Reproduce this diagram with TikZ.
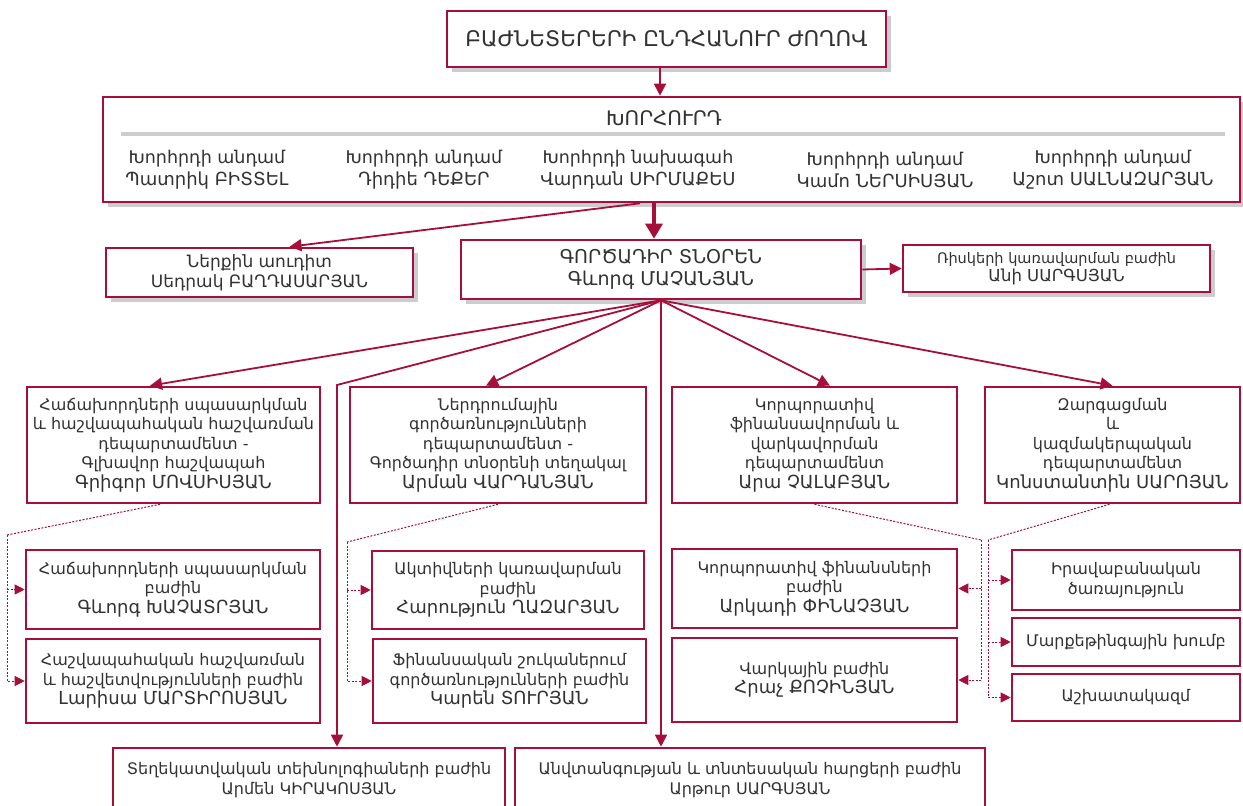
\documentclass[tikz,border=0pt]{standalone}
\usepackage{fontspec}
\setmainfont{DejaVu Sans}
\usetikzlibrary{arrows.meta,shadows}
\definecolor{crim}{RGB}{165,15,58}
\definecolor{shadowc}{RGB}{204,205,208}
\definecolor{txtc}{RGB}{50,50,50}
\newcommand\myfont{\fontsize{16}{19.5}\selectfont}
\newcommand\mytitlefont{\fontsize{21.5}{24}\selectfont}
\newcommand\nm[1]{{\fontsize{18}{19.5}\selectfont #1}}
\newcommand\mm[1]{{\fontsize{17.5}{22}\selectfont #1}}
\tikzset{
  box/.style={draw=crim, line width=2.6pt, fill=white, align=center, inner sep=0pt, text=txtc, font=\myfont},
  shd/.style={drop shadow={shadow xshift=5pt, shadow yshift=-5pt, fill=shadowc, opacity=1}},
  txt/.style={align=center, inner sep=0pt, text=txtc, font=\myfont},
  conn/.style={draw=crim, line width=1.8pt, -{Triangle[length=12pt,width=12pt]}},
  bigconn/.style={draw=crim, line width=3.2pt, -{Triangle[length=15pt,width=17pt]}},
  dconn/.style={draw=crim, line width=1pt, dash pattern=on 2pt off 1.5pt},
  dtip/.style={dconn, -{Triangle[length=10pt,width=10pt]}},
}
\begin{document}
\begin{tikzpicture}[x=1pt,y=-1pt]
\useasboundingbox (0,0) rectangle (1243,806);
\clip (0,0) rectangle (1243,806);

% top
\node[box, shd, minimum width=439, minimum height=56, font=\mytitlefont] (gm) at (666.5,39) {ԲԱԺՆԵՏԵՐԵՐԻ ԸՆԴՀԱՆՈՒՐ ԺՈՂՈՎ};

% board
\node[box, shd, minimum width=1137, minimum height=105] (board) at (671.5,149.5) {};
\node[txt, font=\fontsize{20}{22}\selectfont] (bt) at (664,118) {ԽՈՐՀՈՒՐԴ};
\draw[line width=4.5pt, draw=shadowc] (121,134) -- (1225,134);
\node[txt, font=\fontsize{17.5}{22}\selectfont] (m1) at (207,170) {Խորհրդի անդամ\\\nm{Պատրիկ ԲԻՏՏԵԼ}};
\node[txt, font=\fontsize{17.5}{22}\selectfont] (m2) at (424,170) {Խորհրդի անդամ\\\nm{Դիդիե ԴԵՔԵՐ}};
\node[txt, font=\fontsize{17.5}{22}\selectfont] (m3) at (638,170) {Խորհրդի նախագահ\\\nm{Վարդան ՍԻՐՄԱՔԵՍ}};
\node[txt, font=\fontsize{17.5}{22}\selectfont] (m4) at (885,170) {Խորհրդի անդամ\\\nm{Կամո ՆԵՐՍԻՍՅԱՆ}};
\node[txt, font=\fontsize{17.5}{22}\selectfont] (m5) at (1113,170) {Խորհրդի անդամ\\\nm{Աշոտ ՍԱԼՆԱԶԱՐՅԱՆ}};

% second level
\node[box, shd, minimum width=307, minimum height=49, font=\fontsize{17}{20}\selectfont] (audit) at (259.5,272.5) {Ներքին աուդիտ\\Սեդրակ ԲԱՂԴԱՍԱՐՅԱՆ};
\node[box, shd, minimum width=400, minimum height=59, font=\fontsize{19}{22}\selectfont] (ceo) at (661,269.5) {ԳՈՐԾԱԴԻՐ ՏՆՕՐԵՆ\\Գևորգ ՄԱՉԱՆՅԱՆ};
\node[box, shd, minimum width=307, minimum height=47, font=\fontsize{14.5}{18}\selectfont] (risk) at (1056.5,268.5) {Ռիսկերի կառավարման բաժին\\{\fontsize{16.5}{18}\selectfont Անի ՍԱՐԳՍՅԱՆ}};

% departments
\node[box, minimum width=293, minimum height=116] (d1) at (173.5,445) {Հաճախորդների սպասարկման\\և հաշվապահական հաշվառման\\դեպարտամենտ -\\Գլխավոր հաշվապահ\\\nm{Գրիգոր ՄՈՎՍԻՍՅԱՆ}};
\node[box, minimum width=296, minimum height=116] (d2) at (498,445) {Ներդրումային\\գործառնությունների\\դեպարտամենտ -\\Գործադիր տնօրենի տեղակալ\\\nm{Արման ՎԱՐԴԱՆՅԱՆ}};
\node[box, minimum width=285, minimum height=116] (d3) at (814.5,445) {Կորպորատիվ\\ֆինանսավորման և\\վարկավորման\\դեպարտամենտ\\\nm{Արա ՉԱԼԱԲՅԱՆ}};
\node[box, minimum width=255, minimum height=116] (d4) at (1112.5,445) {Զարգացման\\և\\կազմակերպական\\դեպարտամենտ\\\nm{Կոնստանտին ՍԱՐՈՅԱՆ}};

% sub units
\node[box, minimum width=294, minimum height=79] (s11) at (173,589.5) {Հաճախորդների սպասարկման\\բաժին\\\nm{Գևորգ ԽԱՉԱՏՐՅԱՆ}};
\node[box, minimum width=294, minimum height=84] (s12) at (173,681) {Հաշվապահական հաշվառման\\և հաշվետվությունների բաժին\\\nm{Լարիսա ՄԱՐՏԻՐՈՍՅԱՆ}};
\node[box, minimum width=272, minimum height=78] (s21) at (508,590) {Ակտիվների կառավարման\\բաժին\\\nm{Հարություն ՂԱԶԱՐՅԱՆ}};
\node[box, minimum width=273, minimum height=84] (s22) at (509.5,681) {Ֆինանսական շուկաներում\\գործառնությունների բաժին\\\nm{Կարեն ՏՈՒՐՅԱՆ}};
\node[box, minimum width=285, minimum height=79] (s31) at (814.5,588.5) {Կորպորատիվ ֆինանսների\\բաժին\\\nm{Արկադի ՓԻՆԱՉՅԱՆ}};
\node[box, minimum width=285, minimum height=84] (s32) at (814.5,680) {Վարկային բաժին\\\nm{Հրաչ ՔՈՉԻՆՅԱՆ}};
\node[box, minimum width=228, minimum height=60] (s41) at (1126,580) {Իրավաբանական\\ծառայություն};
\node[box, minimum width=228, minimum height=48] (s42) at (1126,642) {Մարքեթինգային խումբ};
\node[box, minimum width=228, minimum height=47] (s43) at (1126,697.5) {Աշխատակազմ};

% bottom
\node[box, minimum width=392, minimum height=64] (it) at (309,780) {Տեղեկատվական տեխնոլոգիաների բաժին\\Արմեն ԿԻՐԱԿՈՍՅԱՆ};
\node[box, minimum width=470, minimum height=64] (sec) at (750,780) {Անվտանգության և տնտեսական հարցերի բաժին\\Արթուր ՍԱՐԳՍՅԱՆ};

% coordinates
\coordinate (x660) at (660,0);
\coordinate (x654) at (654,0);
\coordinate (itbend) at (337,385);
\coordinate (j1) at (7,535);
\coordinate (j2) at (347,542);
\coordinate (j3) at (981,540);
\coordinate (j4) at (988,540);

% solid connectors
\draw[conn] (gm.south -| x660) -- (board.north -| x660);
\draw[bigconn] (board.south -| x654) -- (ceo.north -| x654);
\draw[conn] ([xshift=-14pt]board.south -| x654) -- ([xshift=30pt]audit.north);
\draw[conn] (ceo.east) -- (risk.west);
\draw[conn] (ceo.south) -- ([xshift=-23.5pt]d1.north);
\draw[conn] (ceo.south) -- ([xshift=-12pt]d2.north);
\draw[conn] (ceo.south) -- ([xshift=15.5pt]d3.north);
\draw[conn] (ceo.south) -- (d4.north);
\draw[conn] (ceo.south) -- (itbend) -- (it.north -| itbend);
\draw[conn] (ceo.south) -- (sec.north -| ceo.south);

% dashed connectors
\draw[dconn] ([xshift=-13.5pt]d1.south) -- (j1);
\draw[dtip] (j1) |- (s12.west);
\draw[dtip] (j1 |- s11.west) -- (s11.west);
\draw[dconn] (d2.south) -- (j2);
\draw[dtip] (j2) |- (s22.west);
\draw[dtip] (j2 |- s21.west) -- (s21.west);
\draw[dconn] (d3.south) -- (j3);
\draw[dtip] (j3) |- (s32.east);
\draw[dtip] (j3 |- s31.east) -- (s31.east);
\draw[dconn] ([xshift=-3pt]d4.south) -- (j4);
\draw[dtip] (j4) |- (s43.west);
\draw[dtip] (j4 |- s41.west) -- (s41.west);
\draw[dtip] (j4 |- s42.west) -- (s42.west);
\end{tikzpicture}
\end{document}
